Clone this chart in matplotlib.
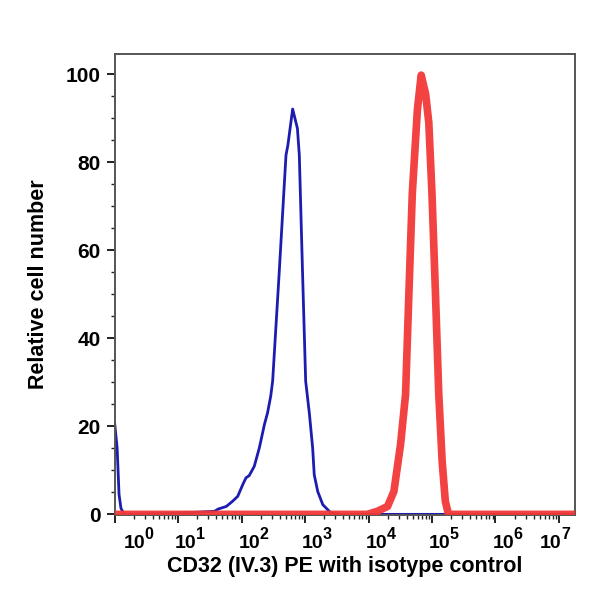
import numpy as np
import matplotlib.pyplot as plt
from matplotlib.ticker import FixedLocator, LogLocator, MultipleLocator, NullFormatter
from matplotlib.transforms import ScaledTranslation

plt.rcParams['font.family'] = ['Liberation Sans', 'DejaVu Sans']
plt.rcParams['font.weight'] = 'bold'

# isotype control (blue), read as decade position (log10 of intensity) and relative count
iso_decade = [0.0, 0.04, 0.07, 0.1, 0.15, 0.87, 1.26, 1.575, 1.63, 1.76, 1.86, 1.94,
              2.02, 2.07, 2.12, 2.2, 2.28, 2.36, 2.41, 2.46, 2.49, 2.595, 2.70, 2.73,
              2.805, 2.88, 2.91, 2.96, 3.01, 3.07, 3.12, 3.145, 3.2, 3.28, 3.41, 3.56, 7.25]
iso_count = [20.8, 15.1, 4.5, 1.4, 0.0, 0.2, 0.45, 0.7, 1.2, 1.8, 3.0, 4.1,
             6.8, 8.3, 8.8, 10.9, 15.1, 20.4, 23.1, 26.9, 30.3, 55.4, 81.6, 83.9,
             92.1, 87.7, 81.6, 55.4, 30.3, 22.7, 15.1, 9.0, 5.2, 2.2, 0.3, 0.0, 0.0]

# CD32 (IV.3) PE stained (red)
cd32_decade = [0.0, 3.98, 4.14, 4.30, 4.40, 4.505, 4.584, 4.636, 4.69, 4.77, 4.83,
               4.9, 4.95, 5.0, 5.055, 5.107, 5.16, 5.21, 5.26, 7.25]
cd32_count = [0.0, 0.0, 0.7, 1.8, 5.2, 15.9, 27.3, 50.1, 72.9, 91.9, 99.8,
              95.5, 89.0, 72.9, 50.1, 27.3, 12.1, 3.0, 0.0, 0.0]

decades = [0, 1, 2, 3, 4, 5, 6, 7]

fig = plt.figure(figsize=(6, 6), dpi=100)
ax = fig.add_axes([0.191, 0.142, 0.767, 0.768])

ax.plot(10 ** np.array(iso_decade), iso_count, color='#1c1cb0', lw=2.0, zorder=2)
ax.plot(10 ** np.array(cd32_decade), cd32_count, color='#f23838', lw=5.5,
        alpha=0.95, solid_joinstyle='round', zorder=3)

ax.set_xscale('log')
ax.set_xlim(10 ** 0, 10 ** 7.25)
ax.set_ylim(-0.1, 104.6)

ax.xaxis.set_major_locator(FixedLocator([10.0 ** d for d in decades]))
ax.xaxis.set_minor_locator(LogLocator(base=10, subs=np.arange(2, 10), numticks=20))
ax.xaxis.set_minor_formatter(NullFormatter())
ax.set_xticklabels(['10'] * len(decades))
ax.yaxis.set_major_locator(MultipleLocator(20))
ax.yaxis.set_minor_locator(MultipleLocator(5))

ax.tick_params(which='major', length=6, width=1.4, labelsize=15, pad=4, color='#222222')
ax.tick_params(which='minor', length=3, width=1.0, color='#222222')
ax.tick_params(axis='x', which='major', labelsize=14, pad=8.5)

for s in ax.spines.values():
    s.set_color('#555555')
    s.set_linewidth(1.4)

# "10" base sits just left of each tick, exponent written as a raised smaller text
shifts = [9, -3, -3, -3, -3, -3, -3, -19]
for lab, dx in zip(ax.get_xticklabels(), shifts):
    lab.set_horizontalalignment('left')
    lab.set_transform(lab.get_transform() + ScaledTranslation(dx / 100, 0, fig.dpi_scale_trans))
for d, dx in zip(decades, shifts):
    ax.annotate(str(d), xy=(10.0 ** d, 0), xycoords=('data', 'axes fraction'),
                xytext=((dx + 21) * 0.72, -8.6), textcoords='offset points',
                ha='left', va='top', fontsize=11.5, fontweight='bold',
                annotation_clip=False)

ax.set_xlabel('CD32 (IV.3) PE with isotype control', fontsize=15.5, fontweight='bold', labelpad=3)
ax.set_ylabel('Relative cell number', fontsize=15.5, fontweight='bold', labelpad=12)

fig.savefig('out.png', dpi=100)
